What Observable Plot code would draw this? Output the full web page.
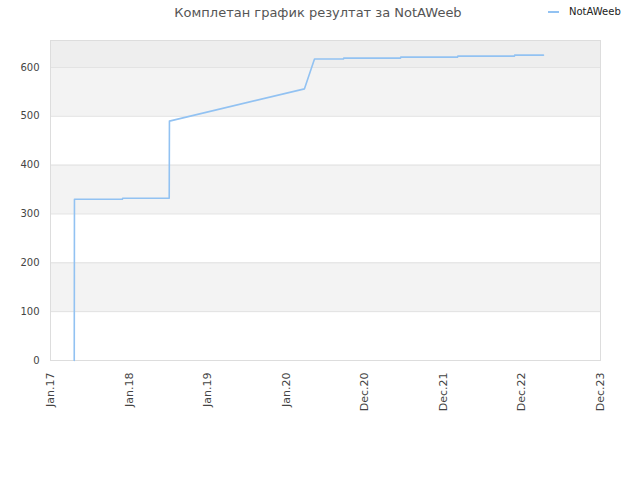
<!DOCTYPE html>
<html><head><meta charset="utf-8">
<script src="https://cdn.jsdelivr.net/npm/d3@7"></script>
<script src="https://cdn.jsdelivr.net/npm/@observablehq/plot@0.6"></script>
<style>
body{margin:0;background:#fff;font-family:"DejaVu Sans",sans-serif;}
#wrap{width:640px;height:480px;}
#head{position:relative;width:640px;height:30px;}
#title{position:absolute;left:0;width:636px;top:5px;text-align:center;font-size:13px;color:#555;white-space:nowrap;}
#legend{position:absolute;left:548px;top:6px;font-size:10px;color:#222;display:flex;align-items:center;white-space:nowrap;}
#legend .sw{display:inline-block;width:11px;height:2px;background:#92c2f2;margin-right:10px;}
#chart svg{display:block;}
</style></head><body>
<div id="wrap">
<div id="head"><div id="title">Комплетан график резултат за NotAWeeb</div>
<div id="legend"><span class="sw"></span><span>NotAWeeb</span></div></div>
<div id="chart"></div>
</div>
<script>
const seriesName = "NotAWeeb";
const dates = ["2017-04-20","2017-04-21","2017-11-27","2017-11-28","2018-06-30","2018-07-01","2020-03-12","2020-04-27","2020-09-07","2020-09-08","2021-05-27","2021-05-28","2022-02-13","2022-02-14","2022-11-01","2022-11-02","2023-03-14"];
const values = [0,330,330,332,332,490,556,617,617,619,619,621,621,623,623,625,625];
const yTicks = [0,100,200,300,400,500,600];
const yMax = 655;
const xDomain = ["2017-01-01","2023-12-01"];
const xTickDates = ["2017-01-01","2017-12-28","2018-12-23","2019-12-19","2020-12-14","2021-12-10","2022-12-05","2023-12-01"];
const xTickLabels = ["Jan.17","Jan.18","Jan.19","Jan.20","Dec.20","Dec.21","Dec.22","Dec.23"];

const data = dates.map((d,i)=>({date:new Date(d), value:values[i]}));
const xd = xDomain.map(d=>new Date(d));
const tickDates = xTickDates.map(d=>new Date(d));
const labelOf = new Map(tickDates.map((d,i)=>[+d, xTickLabels[i]]));
const bands = [];
yTicks.forEach((t,i)=>{ if(i%2===1) bands.push({y1:t,y2:t+100,fill:"#f3f3f3"}); });
bands.push({y1:yTicks[yTicks.length-1], y2:yMax, fill:"#eeeeee"});

const chart = Plot.plot({
  width:640, height:450,
  marginTop:10, marginBottom:120, marginLeft:50, marginRight:40,
  style:{fontFamily:"DejaVu Sans", fontSize:"10px", color:"#444", background:"#fff"},
  x:{type:"utc", domain:xd},
  y:{domain:[0,yMax]},
  marks:[
    Plot.rect(bands,{x1:()=>xd[0], x2:()=>xd[1], y1:"y1", y2:"y2", fill:d=>d.fill}),
    Plot.ruleY(yTicks.filter(t=>t>0),{stroke:"#e0e0e0"}),
    Plot.frame({stroke:"#dddddd"}),
    Plot.axisY({ticks:yTicks, tickSize:0, tickPadding:11, label:null, fill:"#444"}),
    Plot.axisX({ticks:tickDates, tickFormat:d=>labelOf.get(+d), tickRotate:-90, tickSize:0, tickPadding:12, label:null, fontSize:11, fill:"#444"}),
    Plot.line(data,{x:"date", y:"value", stroke:"#92c2f2", strokeWidth:1.6})
  ]
});
document.getElementById("chart").appendChild(chart);
</script>
</body></html>
